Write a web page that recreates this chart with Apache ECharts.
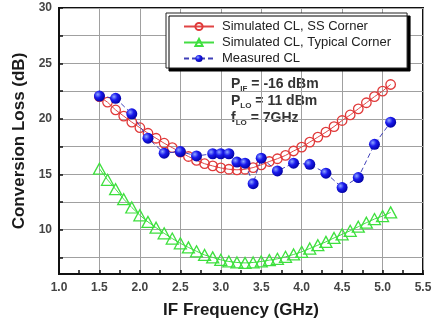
<!DOCTYPE html>
<html>
<head>
<meta charset="utf-8">
<script src="https://cdn.jsdelivr.net/npm/echarts@6/dist/echarts.min.js"></script>
<style>
  html, body { margin: 0; padding: 0; background: #fff; }
  #chart { width: 438px; height: 328px; }
</style>
</head>
<body>
<div id="chart"></div>
<script>
// IF frequency points (GHz) for the simulated curves
const simFreq = [1.5, 1.6, 1.7, 1.8, 1.9, 2.0, 2.1, 2.2, 2.3, 2.4, 2.5, 2.6, 2.7, 2.8, 2.9,
  3.0, 3.1, 3.2, 3.3, 3.4, 3.5, 3.6, 3.7, 3.8, 3.9, 4.0, 4.1, 4.2, 4.3, 4.4, 4.5, 4.6, 4.7,
  4.8, 4.9, 5.0, 5.1];
const ssCorner = [22.0, 21.5, 20.8, 20.25, 19.7, 19.2, 18.7, 18.25, 17.8, 17.4, 17.0, 16.6,
  16.25, 15.95, 15.75, 15.57, 15.45, 15.4, 15.45, 15.6, 15.85, 16.15, 16.4, 16.7, 17.1,
  17.45, 17.9, 18.35, 18.8, 19.3, 19.85, 20.35, 20.9, 21.45, 22.0, 22.5, 23.1];
const typicalCorner = [15.5, 14.5, 13.65, 12.75, 12.0, 11.3, 10.7, 10.18, 9.67, 9.2, 8.77,
  8.4, 8.05, 7.72, 7.5, 7.28, 7.13, 7.04, 7.0, 7.04, 7.13, 7.25, 7.37, 7.55, 7.76, 8.0, 8.3,
  8.6, 8.9, 9.25, 9.58, 9.9, 10.27, 10.63, 10.96, 11.23, 11.56];

// measured points
const measFreq = [1.5, 1.7, 1.9, 2.1, 2.3, 2.5, 2.7, 2.9, 3.0, 3.1, 3.2, 3.3, 3.4, 3.5, 3.7,
  3.9, 4.1, 4.3, 4.5, 4.7, 4.9, 5.1];
const measured = [22.05, 21.85, 20.45, 18.25, 16.9, 17.05, 16.65, 16.85, 16.85, 16.85, 16.1,
  16.0, 14.15, 16.45, 15.3, 16.0, 15.9, 15.1, 13.8, 14.7, 17.7, 19.7];

// axis ticks
const yTickValues = [7.5, 10, 12.5, 15, 17.5, 20, 22.5, 25, 27.5, 30];
const yLabelValues = [10, 15, 20, 25, 30];

const seriesNames = ['Simulated CL, SS Corner', 'Simulated CL, Typical Corner', 'Measured CL'];

const pair = (xs, ys) => xs.map((x, i) => [x, ys[i]]);

const FONT = 'Liberation Sans, Arial, sans-serif';
const tickLabel = { color: '#444', fontWeight: 'bold', fontSize: 12, fontFamily: FONT };
const axisName = { color: '#1a1a1a', fontWeight: 'bold', fontSize: 17, fontFamily: FONT };

const chart = echarts.init(document.getElementById('chart'), null, { renderer: 'canvas' });

const blueBall = new echarts.graphic.RadialGradient(0.35, 0.35, 0.7, [
  { offset: 0, color: '#8fa8ff' },
  { offset: 0.45, color: '#1a1aee' },
  { offset: 1, color: '#0000a0' },
]);

chart.setOption({
  animation: false,
  grid: {
    left: 59, right: 15, top: 8, bottom: 54,
    show: true, borderColor: '#111', borderWidth: 2,
  },
  legend: {
    orient: 'vertical',
    left: 166, top: 13,
    padding: [7, 16, 3, 17],
    itemWidth: 30, itemHeight: 9, itemGap: 3,
    backgroundColor: '#fff',
    borderColor: '#222', borderWidth: 1,
    shadowColor: '#000', shadowBlur: 0, shadowOffsetX: 3, shadowOffsetY: 3,
    textStyle: { color: '#222', fontSize: 13, fontFamily: FONT, padding: [0, 0, 0, 3] },
    data: seriesNames,
  },
  xAxis: {
    type: 'value', min: 1, max: 5.5, interval: 0.5,
    name: 'IF Frequency (GHz)', nameLocation: 'middle', nameGap: 28,
    nameTextStyle: axisName,
    axisLine: { lineStyle: { color: '#111', width: 2 } },
    axisTick: { inside: true, length: 4, lineStyle: { color: '#111', width: 1.5 } },
    minorTick: { show: true, splitNumber: 2, length: 4, lineStyle: { color: '#111', width: 1.5 } },
    axisLabel: Object.assign({ margin: 8, formatter: (v) => v.toFixed(1) }, tickLabel),
    splitLine: { show: true, lineStyle: { color: '#a0a0a0', width: 1 } },
  },
  yAxis: {
    type: 'value', min: 6, max: 30,
    name: 'Conversion Loss (dB)', nameLocation: 'middle', nameGap: 29,
    nameTextStyle: axisName,
    axisLine: { show: true, lineStyle: { color: '#111', width: 2 } },
    axisTick: { show: true, inside: true, length: 4, customValues: yTickValues, lineStyle: { color: '#111', width: 1.5 } },
    axisLabel: Object.assign({ margin: 7, customValues: yLabelValues }, tickLabel),
    splitLine: { show: true, lineStyle: { color: '#a0a0a0', width: 1 } },
  },
  graphic: [{
    type: 'text', left: 231, top: 77,
    style: {
      text: '{p|P}{s|IF}{p| = -16 dBm}\n{p|P}{s|LO}{p| = 11 dBm}\n{p|f}{s|LO}{p| = 7GHz}',
      fill: '#333',
      rich: {
        p: { fontSize: 14, fontWeight: 'bold', fontFamily: FONT, lineHeight: 17, fill: '#333' },
        s: { fontSize: 8, fontWeight: 'bold', fontFamily: FONT, lineHeight: 17, verticalAlign: 'bottom', padding: [6, 0, 0, 0], fill: '#333' },
      },
    },
  }],
  series: [
    {
      name: seriesNames[0], type: 'line', data: pair(simFreq, ssCorner),
      symbol: 'circle', symbolSize: 9.5,
      lineStyle: { color: '#e04444', width: 1 },
      itemStyle: { color: 'rgba(255,255,255,0)', borderColor: '#e03a3a', borderWidth: 1.3 },
      z: 3,
    },
    {
      name: seriesNames[1], type: 'line', data: pair(simFreq, typicalCorner),
      symbol: 'triangle', symbolSize: [12, 11],
      lineStyle: { color: '#44dd44', width: 1 },
      itemStyle: { color: 'rgba(255,255,255,0)', borderColor: '#3ee03e', borderWidth: 1.3 },
      z: 2,
    },
    {
      name: seriesNames[2], type: 'line', data: pair(measFreq, measured),
      symbol: 'circle', symbolSize: 11,
      lineStyle: { color: '#4040b8', width: 1, type: [5, 3] },
      itemStyle: { color: blueBall },
      z: 4,
    },
  ],
});
</script>
</body>
</html>
